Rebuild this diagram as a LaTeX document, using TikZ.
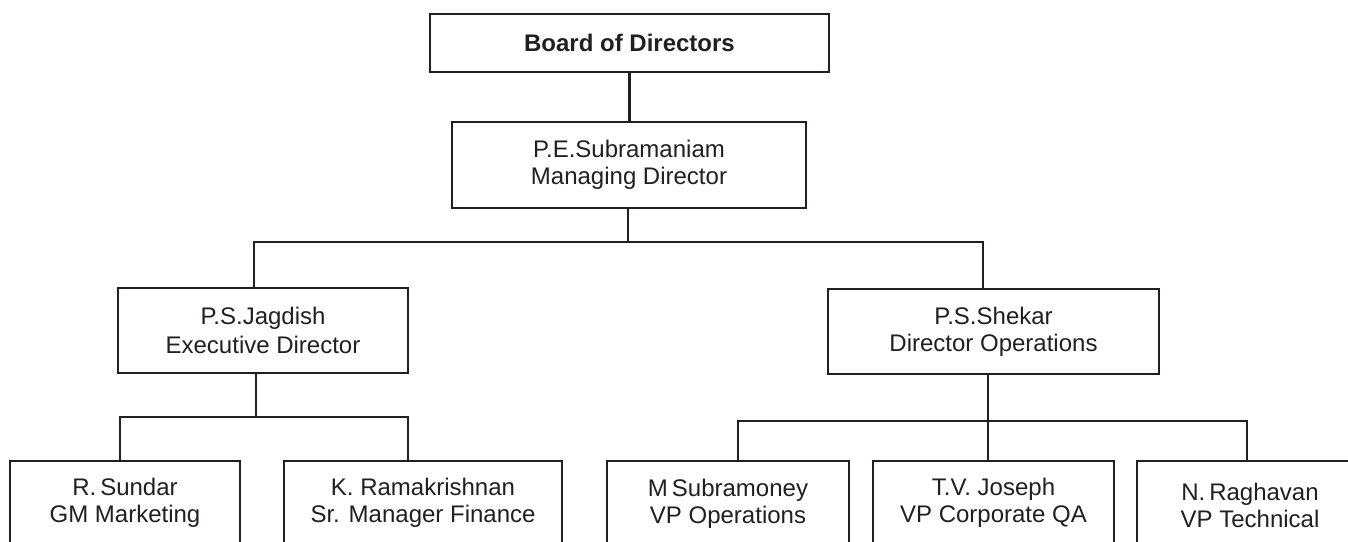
\documentclass[tikz,border=0pt]{standalone}
\usepackage{fontspec}
\setmainfont{Liberation Sans}
\definecolor{ink}{HTML}{231F20}
\begin{document}
\begin{tikzpicture}[x=1pt,y=-1pt,
  box/.style={draw=ink, line width=2.2pt, rectangle, inner sep=0pt, outer sep=0pt,
    align=center, text=ink, font=\fontsize{24}{27}\selectfont},
  conn/.style={draw=ink, line width=2.2pt}]
\path[use as bounding box, clip] (0,0) rectangle (1348,541);
\fill[white] (0,0) rectangle (1348,541);

\node[box, minimum width=399pt, minimum height=58pt, font=\fontsize{24}{27}\selectfont\bfseries] (board) at (629.5,43) {Board of Directors};
\node[box, minimum width=354pt, minimum height=86pt] (pe) at (629,165) {P.E.Subramaniam\\Managing Director};
\node[box, minimum width=290pt, minimum height=85pt, font=\fontsize{24}{29}\selectfont] (jag) at (263,330.5) {P.S.Jagdish\\Executive Director};
\node[box, minimum width=331pt, minimum height=85pt] (shek) at (993.5,331.5) {P.S.Shekar\\Director Operations};

\node[box, minimum width=230pt, minimum height=84pt, anchor=north] (sun) at (125,461) {R.\,Sundar\\GM Marketing};
\node[box, minimum width=278pt, minimum height=84pt, anchor=north] (ram) at (423,461) {K. Ramakrishnan\\Sr. Manager Finance};
\node[box, minimum width=242pt, minimum height=86pt, anchor=north] (sub) at (728,461) {M\,Subramoney\\VP Operations};
\node[box, minimum width=241pt, minimum height=84pt, anchor=north] (jos) at (993.5,461) {T.V. Joseph\\VP Corporate QA};
\node[box, minimum width=226pt, minimum height=88pt, anchor=north] (rag) at (1250,461) {N.\,Raghavan\\VP Technical};

% connectors
\draw[conn] (board.south) -- (board.south |- pe.north);
\path (pe.south) ++(-1,34) coordinate (b1);
\draw[conn] (pe.south -| b1) -- (b1);
\draw[conn] ([xshift=-9pt]jag.north) |- (b1) -| ([xshift=-10.5pt]shek.north);

\path ([xshift=-7pt]jag.south) ++(0,44) coordinate (b2);
\draw[conn] ([xshift=-7pt]jag.south) -- (b2);
\draw[conn] ([xshift=-5pt]sun.north) |- (b2) -| ([xshift=-15pt]ram.north);

\draw[conn] ([xshift=-5.5pt]shek.south) -- ([xshift=-5.5pt]jos.north);
\coordinate (b3) at ([xshift=-5.5pt,yshift=40pt]jos.north);
\draw[conn] ([xshift=10pt]sub.north) |- (b3) -| ([xshift=-3pt]rag.north);
\end{tikzpicture}
\end{document}
